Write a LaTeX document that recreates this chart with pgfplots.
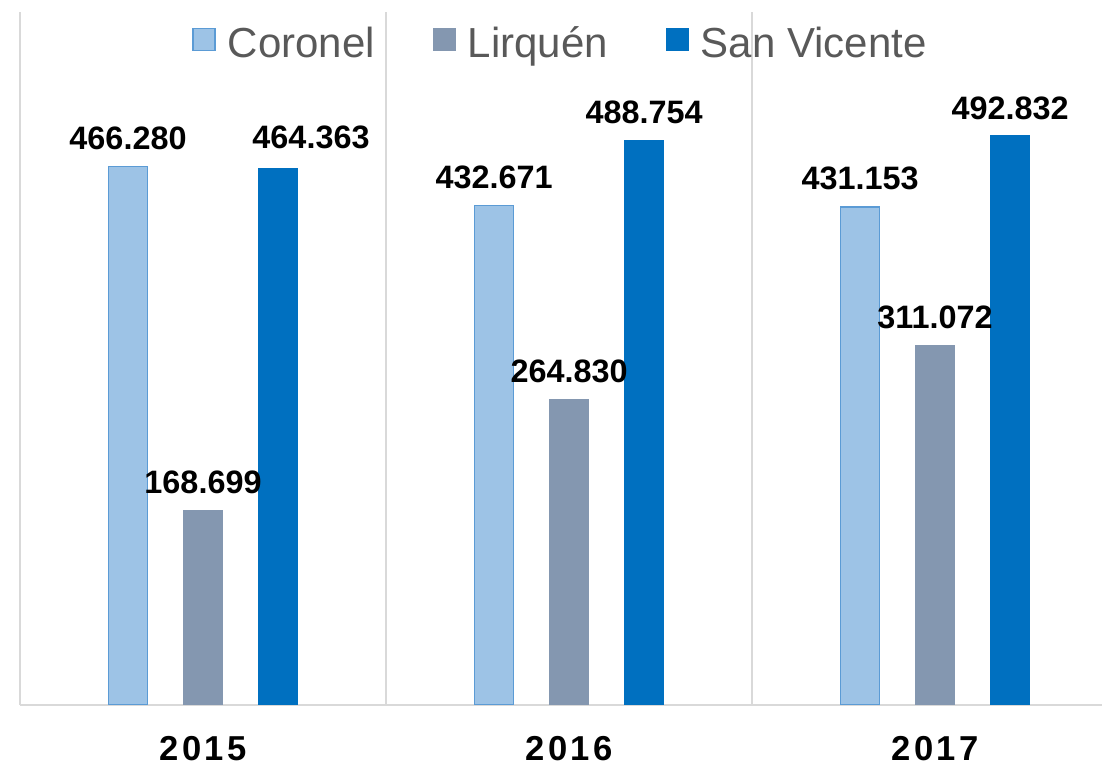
\documentclass[border=0pt]{standalone}
\usepackage{fontspec}
\setmainfont{Liberation Sans}
\usepackage{pgfplots}
\pgfplotsset{compat=1.18}
\definecolor{cor}{HTML}{9DC3E6}
\definecolor{corline}{HTML}{5B9BD5}
\definecolor{lir}{HTML}{8497B0}
\definecolor{svi}{HTML}{0070C0}
\definecolor{sep}{HTML}{D9D9D9}
\definecolor{legtext}{HTML}{595959}
\begin{document}
\begin{tikzpicture}
\begin{axis}[
    scale only axis, width=541pt, height=346.5pt,
    ybar=18pt, bar width=19.5pt,
    xmin=-0.5, xmax=2.456, ymin=0, ymax=600,
    enlargelimits=false,
    axis line style={draw=none},
    ytick=\empty,
    xtick={0,1,2},
    xticklabels={\addfontfeature{LetterSpace=10}2015,\addfontfeature{LetterSpace=10}2016,\addfontfeature{LetterSpace=10}2017},
    major tick length=0pt,
    xticklabel style={font=\fontsize{17.3}{19}\selectfont\bfseries, inner sep=0pt, yshift=-15.5pt},
    extra x ticks={-0.5,0.5,1.5},
    extra x tick labels={},
    extra x tick style={grid=major, major grid style={draw=sep, line width=0.9pt}},
    extra y ticks={0},
    extra y tick labels={},
    extra y tick style={grid=major, major grid style={draw=sep, line width=1.2pt}},
    nodes near coords,
    nodes near coords style={font=\fontsize{16.2}{18}\selectfont\bfseries, text=black, anchor=south, inner sep=0pt, yshift=8pt,
        /pgf/number format/.cd, fixed, zerofill, precision=3, assume math mode=true},
    legend columns=3,
    legend style={at={(0.4986,0.954)}, anchor=center, draw=none, fill=none,
        font=\fontsize{21}{24}\selectfont, text=legtext, inner sep=0pt,
        nodes={inner sep=0pt},
        /tikz/every odd column/.append style={column sep=6pt},
        /tikz/every even column/.append style={column sep=29pt}},
    legend image code/.code={\draw[#1] (0pt,-3.3pt) rectangle (11pt,7.7pt);},
]
\addplot[fill=cor, draw=corline, line width=0.75pt] coordinates {(0,466.280) (1,432.671) (2,431.153)};
\addlegendentry{Coronel}
\addplot[fill=lir, draw=lir] coordinates {(0,168.699) (1,264.830) (2,311.072)};
\addlegendentry{Lirquén}
\addplot[fill=svi, draw=svi, coordinate style/.condition={\coordindex==0}{xshift=16.5pt, yshift=1.5pt}] coordinates {(0,464.363) (1,488.754) (2,492.832)};
\addlegendentry{San Vicente}
\end{axis}
\pgfresetboundingbox
\path[use as bounding box] ([xshift=-10pt,yshift=-30pt]current axis.south west) rectangle ([yshift=6pt]current axis.north east);
\end{tikzpicture}
\end{document}
